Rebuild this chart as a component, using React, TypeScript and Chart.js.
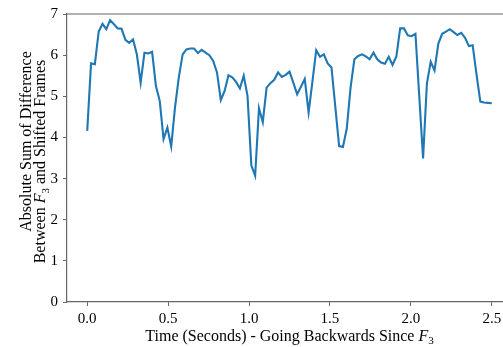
import React, { useEffect, useRef } from "react";
import { Chart, registerables } from "chart.js";

Chart.register(...registerables);

// Absolute sum of difference, one value per shifted frame (time 0 .. 2.5 s)
const VALUES: number[] = [
  4.16, 5.80, 5.78, 6.57, 6.76, 6.63, 6.85, 6.75, 6.65, 6.64,
  6.37, 6.30, 6.38, 6.02, 5.33, 6.06, 6.04, 6.08, 5.25, 4.89,
  3.96, 4.24, 3.78, 4.73, 5.46, 6.02, 6.14, 6.16, 6.16, 6.05,
  6.13, 6.06, 6.00, 5.86, 5.58, 4.91, 5.13, 5.51, 5.46, 5.35,
  5.19, 5.50, 5.01, 3.32, 3.07, 4.71, 4.37, 5.21, 5.32, 5.40,
  5.58, 5.47, 5.52, 5.60, 5.33, 5.05, 5.23, 5.42, 4.61, 5.35,
  6.12, 5.96, 6.02, 5.80, 5.70, 4.75, 3.79, 3.77, 4.21, 5.21,
  5.90, 5.98, 6.02, 5.97, 5.90, 6.06, 5.90, 5.82, 5.79, 5.96,
  5.76, 5.97, 6.65, 6.65, 6.48, 6.46, 6.52, 5.00, 3.49, 5.31,
  5.84, 5.63, 6.28, 6.52, 6.57, 6.63, 6.56, 6.49, 6.54, 6.42,
  6.22, 6.24, 5.53, 4.87, 4.85, 4.84, 4.83,
];
const START_TIME = 0;
const END_TIME = 2.5;
const X_TICKS: number[] = [0, 0.5, 1.0, 1.5, 2.0, 2.5];
const Y_TICKS: number[] = [0, 1, 2, 3, 4, 5, 6, 7];

type Seg = { text: string; italic?: boolean; sub?: boolean };
const X_TITLE: Seg[] = [
  { text: "Time (Seconds) - Going Backwards Since " },
  { text: "F", italic: true },
  { text: "3", sub: true },
];
const Y_TITLE_1: Seg[] = [{ text: "Absolute Sum of Difference" }];
const Y_TITLE_2: Seg[] = [
  { text: "Between " },
  { text: "F", italic: true },
  { text: "3", sub: true },
  { text: " and Shifted Frames" },
];

const FAMILY = "'Liberation Serif', 'DejaVu Serif', serif";
const TICK_FS = 15;
const TITLE_FS = 16;
const SPINE = "#666666";

Chart.defaults.font.family = FAMILY;

function segFont(s: Seg) {
  if (s.sub) return `${Math.round(TITLE_FS * 0.7)}px ${FAMILY}`;
  if (s.italic) return `italic ${TITLE_FS}px ${FAMILY}`;
  return `${TITLE_FS}px ${FAMILY}`;
}

function drawRich(ctx: CanvasRenderingContext2D, segs: Seg[], cx: number, cy: number, rot: number) {
  ctx.save();
  ctx.translate(cx, cy);
  ctx.rotate(rot);
  ctx.textBaseline = "alphabetic";
  ctx.textAlign = "left";
  ctx.fillStyle = "#000";
  let total = 0;
  const widths = segs.map((s) => {
    ctx.font = segFont(s);
    const w = ctx.measureText(s.text).width;
    total += w;
    return w;
  });
  let x = -total / 2;
  const base = TITLE_FS * 0.35;
  segs.forEach((s, i) => {
    ctx.font = segFont(s);
    ctx.fillText(s.text, x, base + (s.sub ? TITLE_FS * 0.22 : 0));
    x += widths[i];
  });
  ctx.restore();
}

const titlesPlugin = {
  id: "richTitles",
  afterDraw(chart: any) {
    const ctx = chart.ctx as CanvasRenderingContext2D;
    const xs = chart.scales.x;
    const area = chart.chartArea;
    ctx.save();
    ctx.strokeStyle = SPINE;
    ctx.lineWidth = 1.2;
    ctx.beginPath();
    ctx.moveTo(area.left, area.top);
    ctx.lineTo(area.right, area.top);
    ctx.lineTo(area.right, area.bottom);
    ctx.stroke();
    ctx.restore();
    const cx = xs.getPixelForValue((xs.min + xs.max) / 2);
    drawRich(ctx, X_TITLE, cx, 335, 0);
    drawRich(ctx, Y_TITLE_1, 25, 141.5, -Math.PI / 2);
    drawRich(ctx, Y_TITLE_2, 39.5, 161.5, -Math.PI / 2);
  },
};

export default function App() {
  const ref = useRef<HTMLCanvasElement>(null);
  useEffect(() => {
    document.body.style.margin = "0";
    const canvas = ref.current!;
    const times = VALUES.map((_, i) => START_TIME + (i * (END_TIME - START_TIME)) / (VALUES.length - 1));
    const chart = new Chart(canvas, {
      type: "line",
      data: {
        datasets: [
          {
            data: VALUES.map((v, i) => ({ x: times[i], y: v })),
            borderColor: "#1f77b4",
            borderWidth: 2.1,
            pointRadius: 0,
            tension: 0,
            fill: false,
          },
        ],
      },
      options: {
        responsive: false,
        animation: false,
        layout: { padding: { top: 13, right: 18, left: 0, bottom: 0 } },
        plugins: { legend: { display: false }, tooltip: { enabled: false }, title: { display: false } },
        scales: {
          x: {
            type: "linear",
            min: -0.125,
            max: 2.625,
            afterBuildTicks: (s: any) => {
              s.ticks = X_TICKS.map((v) => ({ value: v }));
            },
            afterFit: (s: any) => {
              s.height = 45;
            },
            grid: { display: true, drawOnChartArea: false, drawTicks: true, tickLength: 4, color: SPINE, lineWidth: 1 },
            border: { display: true, color: SPINE, width: 1.2 },
            ticks: {
              autoSkip: false,
              maxRotation: 0,
              padding: 4,
              color: "#000",
              font: { family: FAMILY, size: TICK_FS },
              callback: (v: any) => Number(v).toFixed(1),
            },
          },
          y: {
            type: "linear",
            min: 0,
            max: 7,
            afterBuildTicks: (s: any) => {
              s.ticks = Y_TICKS.map((v) => ({ value: v }));
            },
            afterFit: (s: any) => {
              s.width = 67;
            },
            grid: { display: true, drawOnChartArea: false, drawTicks: true, tickLength: 4, color: SPINE, lineWidth: 1 },
            border: { display: true, color: SPINE, width: 1.2 },
            ticks: {
              autoSkip: false,
              padding: 5,
              color: "#000",
              font: { family: FAMILY, size: TICK_FS },
              callback: (v: any) => String(v),
            },
          },
        },
      },
      plugins: [titlesPlugin],
    });
    return () => chart.destroy();
  }, []);
  return (
    <div style={{ position: "absolute", left: 0, top: 0, width: 503, height: 347, overflow: "hidden" }}>
      <canvas ref={ref} width={530} height={347} style={{ display: "block" }} />
    </div>
  );
}
